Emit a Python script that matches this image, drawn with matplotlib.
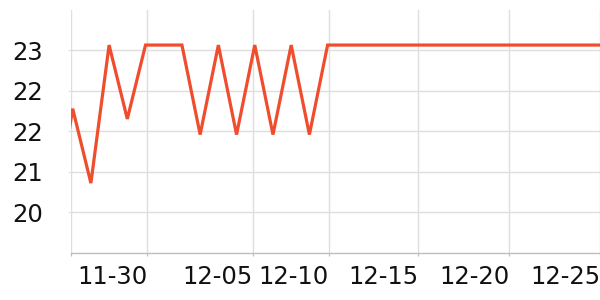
import matplotlib
matplotlib.use("Agg")
import matplotlib.pyplot as plt

# Data: one value per sample (category index), first sample clipped at left edge
sample_index = list(range(-1, 30))
temperature = [19.8, 21.92, 20.54, 23.1, 21.73, 23.1, 23.1, 23.1, 21.44, 23.1,
               21.44, 23.1, 21.44, 23.1, 21.44, 23.1,
               23.1, 23.1, 23.1, 23.1, 23.1, 23.1, 23.1, 23.1, 23.1,
               23.1, 23.1, 23.1, 23.1, 23.1, 23.1]

x_tick_pos = [-0.12, 4.1, 9.9, 14.07, 18.98, 23.98, 28.96]
x_tick_labels = ["", "11-30", "12-05", "12-10", "12-15", "12-20", "12-25"]
y_tick_pos = [20, 20.75, 21.5, 22.25, 23]
y_tick_labels = ["20", "21", "22", "22", "23"]

fig = plt.figure(figsize=(6, 3), dpi=100)
ax = fig.add_axes([70.5 / 600, (300 - 252.7) / 300, (600 - 70.5) / 600, (252.7 - 10) / 300])

ax.plot(sample_index, temperature, color="#ef4d2d", linewidth=2.3, solid_joinstyle="miter", zorder=3)

ax.set_xlim(-0.12, 28.96)
ax.set_ylim(19.25, 23.75)

ax.set_xticks(x_tick_pos)
ax.set_xticklabels(x_tick_labels, ha="right")
ax.set_yticks(y_tick_pos)
ax.set_yticklabels(y_tick_labels)

ax.grid(True, color="#dedede", linewidth=1.0)
ax.set_axisbelow(True)
for s in ["top", "right", "left"]:
    ax.spines[s].set_visible(False)
ax.spines["bottom"].set_color("#bdbdbd")
ax.spines["bottom"].set_linewidth(1.0)

ax.tick_params(axis="x", length=2.5, color="#bdbdbd", pad=6.5, labelsize=17.5, labelcolor="#111111")
ax.tick_params(axis="y", length=2.0, color="#dedede", pad=18, labelsize=17.5, labelcolor="#111111")

fig.savefig("out.png", dpi=100)
